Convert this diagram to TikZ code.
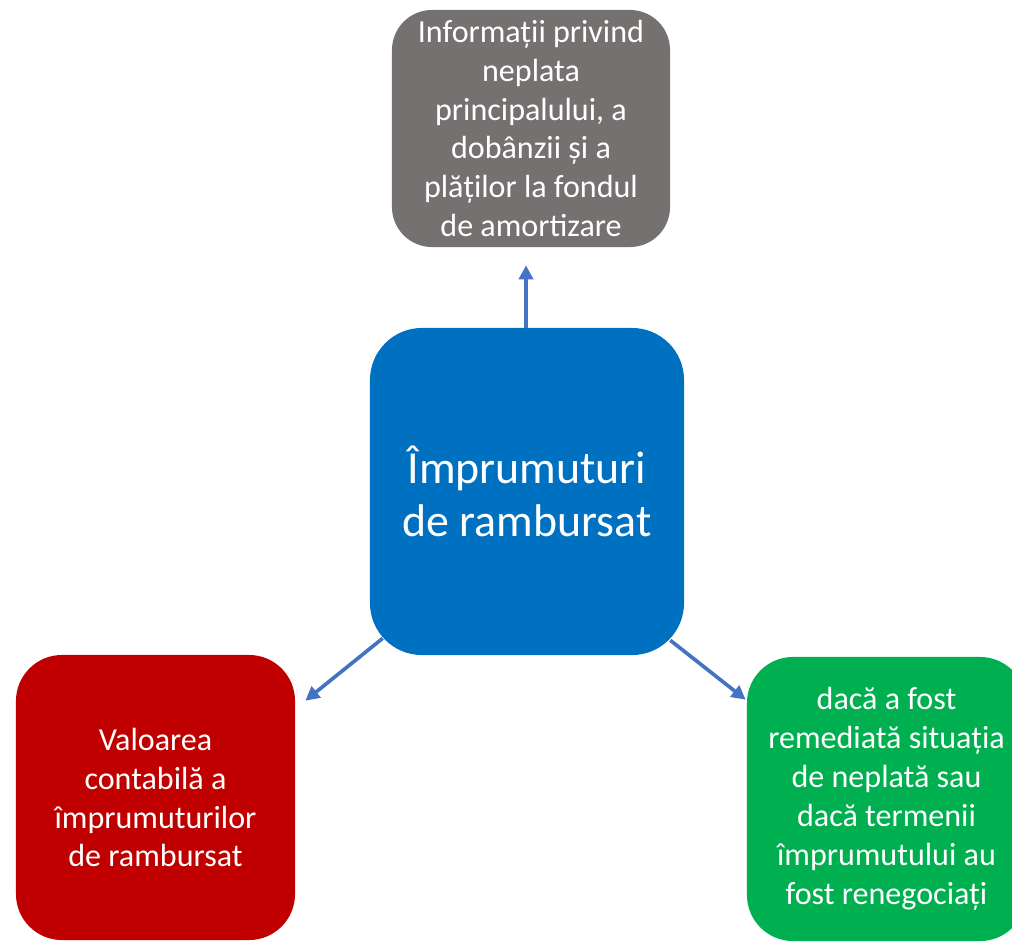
\documentclass[tikz,border=0pt]{standalone}
\usepackage{fontspec}
\setmainfont{Carlito}
\usetikzlibrary{arrows.meta}
\definecolor{infogray}{HTML}{767171}
\definecolor{mainblue}{HTML}{0070C0}
\definecolor{valred}{HTML}{C00000}
\definecolor{termgreen}{HTML}{00B050}
\definecolor{linkblue}{HTML}{4472C4}
\begin{document}
\begin{tikzpicture}[x=0.025cm,y=-0.025cm,
  box/.style={rounded corners=1.15cm,text=white,align=center,inner sep=0pt,
    font=\fontsize{22.8}{27.7}\selectfont},
  link/.style={draw=linkblue,line width=2.6pt,-{Triangle[length=10pt,width=10pt]}}]
  \useasboundingbox (0,0) rectangle (1012,941);
  % the four boxes
  \node[box,fill=infogray,rounded corners=1cm,minimum width=6.95cm,minimum height=5.925cm]
    (info) at (531,128.5) {Informații privind\\neplata\\principalului, a\\dobânzii și a\\plăților la fondul\\de amortizare};
  \node[box,fill=mainblue,rounded corners=1.3cm,minimum width=7.85cm,minimum height=8.175cm,
    font=\fontsize{32.6}{37.7}\selectfont]
    (main) at (527,491.5) {Împrumuturi\\de rambursat};
  \node[box,fill=valred,minimum width=6.975cm,minimum height=7.125cm]
    (valoare) at (155.5,797.5) {Valoarea\\contabilă a\\împrumuturilor\\de rambursat};
  \node[box,fill=termgreen,minimum width=6.975cm,minimum height=7.1cm]
    (termeni) at (886.5,799) {dacă a fost\\remediată situația\\de neplată sau\\dacă termenii\\împrumutului au\\fost renegociați};
  % arrows
  \draw[link] ([xshift=-0.025cm]main.north) -- ([shift={(-5,18)}]info.south);
  \draw[link] ([shift={(13,-17)}]main.south west) -- ([shift={(10,46)}]valoare.north east);
  \draw[link] ([shift={(-14,-15)}]main.south east) -- ([shift={(-1,43)}]termeni.north west);
\end{tikzpicture}
\end{document}
